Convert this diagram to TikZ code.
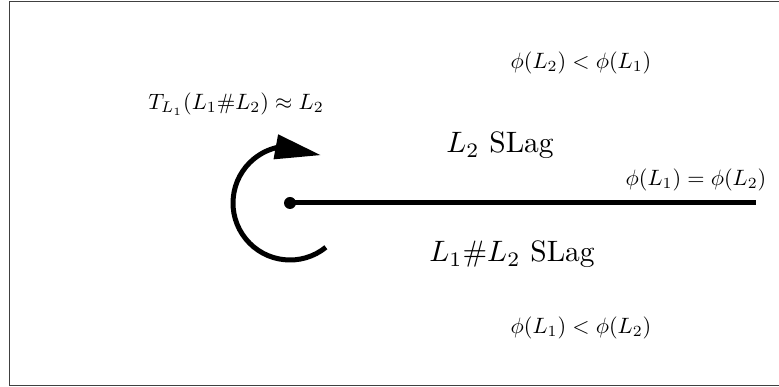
\documentclass[tikz,border=0pt]{standalone}
\usetikzlibrary{arrows.meta,bending,calc}
\begin{document}
\begin{tikzpicture}[x=1pt,y=1pt,
  smalltxt/.style={inner sep=0pt,scale=2.22,transform shape},
  bigtxt/.style={inner sep=0pt,anchor=base,scale=2.95,transform shape},
  thick line/.style={line width=5pt}]
\useasboundingbox (0,0) rectangle (779,387);
\draw[line width=1.3pt,black!75] (9.5,385.5) rectangle (781,1.5);
\node[smalltxt] (top) at (581,324) {$\phi(L_2) < \phi(L_1)$};
\node[smalltxt] (tw) at (236,283) {$T_{L_1}(L_1\#L_2) \approx L_2$};
\node[smalltxt] (eq) at (696,207) {$\phi(L_1) = \phi(L_2)$};
\node[smalltxt] (bot) at (581,59) {$\phi(L_1) < \phi(L_2)$};
\node[bigtxt] (l2) at (500,234) {$L_2$ SLag};
\node[bigtxt] (l12) at (512,125) {$L_1\#L_2$ SLag};
\coordinate (c) at (290,184);
\coordinate (e) at (756,184);
\draw[thick line] (c) -- (e);
\fill (c) circle[radius=6];
\draw[thick line,-{Triangle[length=46pt,width=24pt]}] ($(c)+(-51:57)$) arc[start angle=-51,end angle=-303,radius=57];
\end{tikzpicture}
\end{document}
